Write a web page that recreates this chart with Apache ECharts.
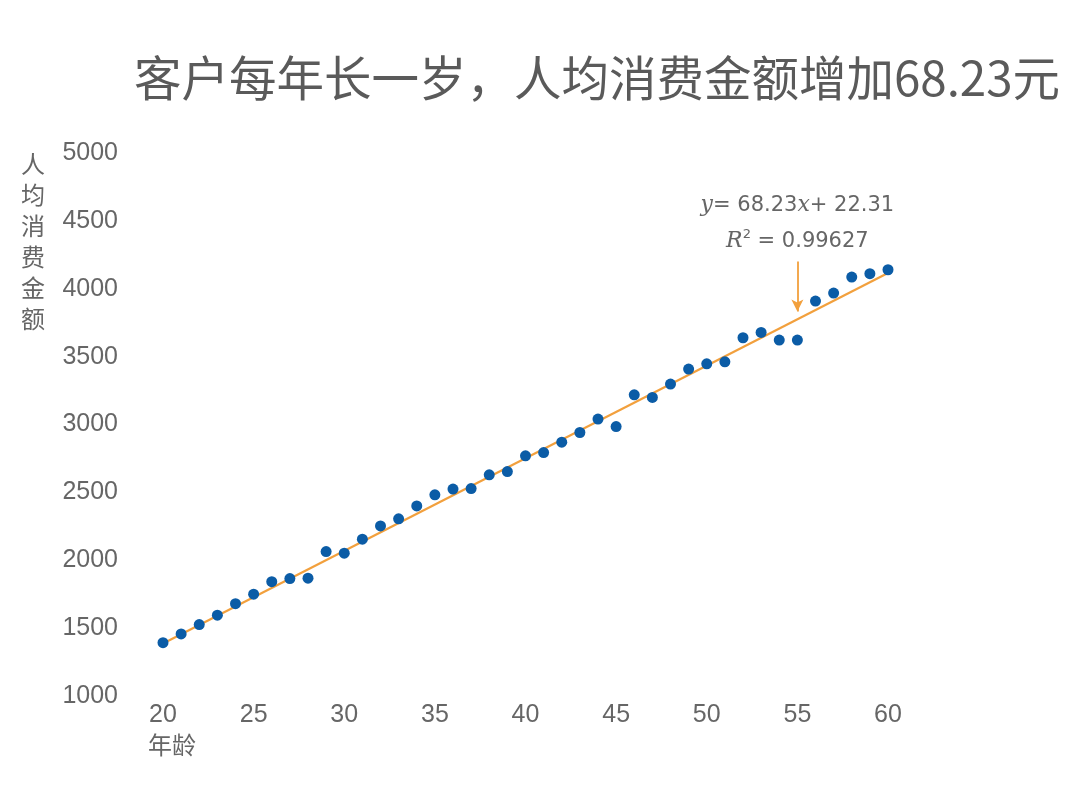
<!DOCTYPE html>
<html>
<head>
<meta charset="utf-8">
<script src="https://cdn.jsdelivr.net/npm/echarts@6/dist/echarts.min.js"></script>
<style>
html,body{margin:0;padding:0;background:#fff;}
#c{width:1080px;height:790px;}
</style>
</head>
<body>
<div id="c"></div>
<script>
// Data
const ages = [20,21,22,23,24,25,26,27,28,29,30,31,32,33,34,35,36,37,38,39,40,41,42,43,44,45,46,47,48,49,50,51,52,53,54,55,56,57,58,59,60];
const spend = [1393,1457,1526,1595,1680,1750,1842,1865,1868,2064,2052,2155,2253,2305,2400,2482,2524,2528,2629,2653,2769,2793,2870,2941,3040,2985,3219,3199,3298,3408,3447,3462,3639,3678,3622,3622,3909,3968,4086,4111,4140];
// Trend line end points (y = 68.23x + 22.31)
const trendLine = [[20,1386.9],[60,4116.1]];
// Annotation arrow (from, to) and text anchor
const arrowFrom = [55,4201];
const arrowTo = [55,3833];
const noteAt = [55,4480];
const yTicks = {min:1000, max:5000, interval:500};
const xTicks = {min:20, max:60, interval:5};

const chart = echarts.init(document.getElementById('c'), null, {renderer:'canvas'});
const tickFont = '"Liberation Sans",Arial,sans-serif';
const cjk = '"Noto Sans CJK SC","Noto Sans",sans-serif';
const orange = '#f2a03d';
const blue = '#0b5ca6';
const gray = '#5a5a5a';

chart.setOption({
  backgroundColor:'#fff',
  animation:false,
  title:{
    text:'客户每年长一岁，人均消费金额增加68.23元',
    left:592, top:49, textAlign:'center',
    textStyle:{fontFamily:cjk, fontSize:47.5, fontWeight:'normal', color:gray}
  },
  grid:{left:163, right:192, top:153, bottom:94, containLabel:false, outerBoundsMode:'none'},
  xAxis:{
    type:'value', min:xTicks.min, max:xTicks.max, interval:xTicks.interval,
    axisLine:{show:false}, axisTick:{show:false}, splitLine:{show:false},
    axisLabel:{margin:7, fontFamily:tickFont, fontSize:25, color:'#666', formatter:v=>String(v)},
    name:'年龄', nameLocation:'start', nameGap:15, nameMoveOverlap:false,
    nameTextStyle:{fontFamily:cjk, fontSize:24, color:'#666', align:'left', verticalAlign:'top', padding:[37,0,0,0]}
  },
  yAxis:{
    type:'value', min:yTicks.min, max:yTicks.max, interval:yTicks.interval,
    axisLine:{show:false}, axisTick:{show:false}, splitLine:{show:false},
    axisLabel:{margin:45, fontFamily:tickFont, fontSize:25, color:'#666', formatter:v=>String(v)},
    name:'人\n均\n消\n费\n金\n额', nameLocation:'end', nameGap:5, nameMoveOverlap:false,
    nameTextStyle:{fontFamily:cjk, fontSize:24, color:'#666', align:'center', verticalAlign:'top', lineHeight:31, padding:[0,260,0,0]}
  },
  series:[
    {
      type:'line', data:trendLine, symbol:'none', z:2,
      lineStyle:{color:orange, width:2.2}, silent:true
    },
    {
      type:'scatter', data:ages.map((a,i)=>[a,spend[i]]), symbolSize:11, z:3,
      itemStyle:{color:blue, opacity:1},
      markLine:{
        silent:true, symbol:['none','arrow'], symbolSize:[9,12],
        lineStyle:{color:orange, width:1.8, type:'solid'},
        label:{show:false},
        data:[[{coord:arrowFrom},{coord:arrowTo}]]
      },
      markPoint:{
        silent:true, symbol:'circle', symbolSize:1, itemStyle:{color:'rgba(0,0,0,0)'},
        data:[{coord:noteAt}],
        label:{
          show:true, position:'inside', align:'center', verticalAlign:'middle',
          formatter:'{i|y}{n|= 68.23}{i|x}{n|+ 22.31}\n{i|R}{s|2}{n| = 0.99627}',
          rich:{
            i:{fontFamily:'"DejaVu Serif",serif', fontStyle:'italic', fontSize:22, color:'#666', lineHeight:36},
            n:{fontFamily:'"DejaVu Sans",sans-serif', fontSize:21, color:'#666', lineHeight:36},
            s:{fontFamily:'"DejaVu Sans",sans-serif', fontSize:13, color:'#666', lineHeight:36, padding:[0,0,14,0]}
          }
        }
      }
    }
  ]
});
</script>
</body>
</html>
